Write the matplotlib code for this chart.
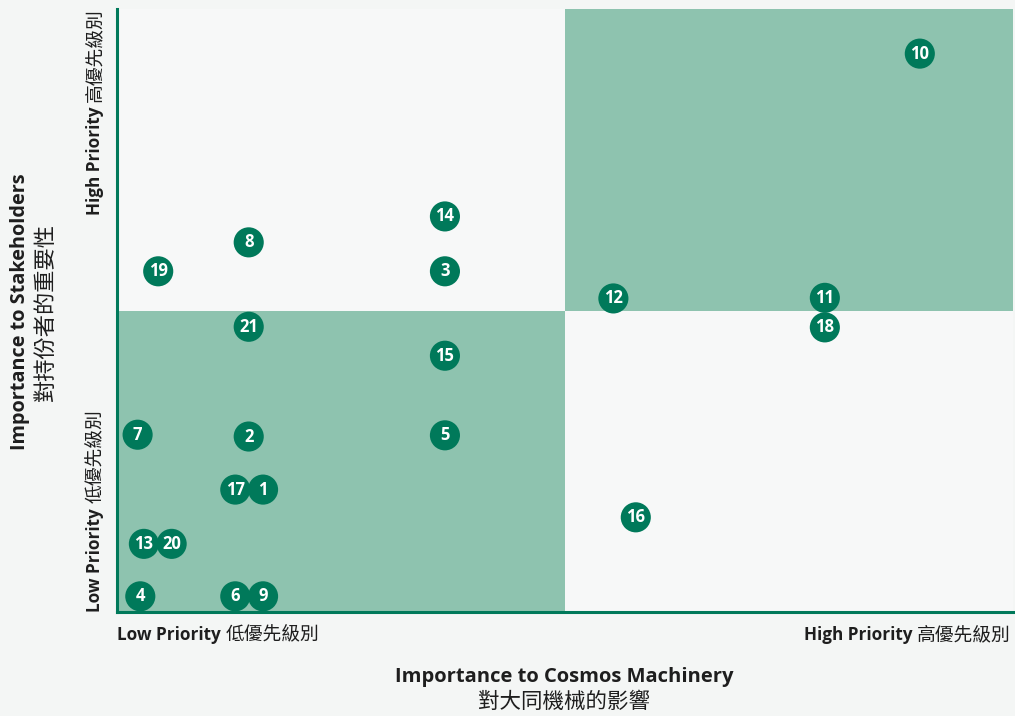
import matplotlib
matplotlib.use("Agg")
import matplotlib.pyplot as plt
from matplotlib.patches import Rectangle

plt.rcParams['font.family'] = ['Open Sans', 'Noto Sans CJK TC', 'DejaVu Sans']

labels = ["10", "14", "8", "19", "3", "12", "11", "18", "21", "15", "7", "2", "5",
          "17", "1", "16", "13", "20", "4", "6", "9"]
x_vals = [8.96, 3.66, 1.47, 0.46, 3.66, 5.54, 7.90, 7.90, 1.47, 3.66, 0.23, 1.47, 3.66,
          1.32, 1.63, 5.79, 0.30, 0.61, 0.26, 1.32, 1.63]
y_vals = [9.26, 6.56, 6.13, 5.65, 5.65, 5.20, 5.21, 4.72, 4.73, 4.25, 2.94, 2.91, 2.93,
          2.03, 2.03, 1.57, 1.13, 1.13, 0.26, 0.26, 0.26]

x_title_en = "Importance to Cosmos Machinery"
x_title_zh = "對大同機械的影響"
y_title_en = "Importance to Stakeholders"
y_title_zh = "對持份者的重要性"
low_en, low_zh = "Low Priority", "低優先級別"
high_en, high_zh = "High Priority", "高優先級別"

GREEN = "#00795a"
QUAD = "#8ec3af"
BG = "#f4f6f5"
TXT = "#1e1e1e"

fig = plt.figure(figsize=(10.15, 7.16), dpi=100, facecolor=BG)
ax = fig.add_axes([117/1015, 1-612/716, 896/1015, 603/716])
ax.set_facecolor("#f7f8f8")
ax.set_xlim(0, 10)
ax.set_ylim(0, 10)

ax.add_patch(Rectangle((0, 0), 5, 5, facecolor=QUAD, edgecolor='none', zorder=0))
ax.add_patch(Rectangle((5, 5), 5, 5, facecolor=QUAD, edgecolor='none', zorder=0))

ax.scatter(x_vals, y_vals, s=470, color=GREEN, edgecolors='none', zorder=3, clip_on=False)
for lab, xv, yv in zip(labels, x_vals, y_vals):
    ax.text(xv, yv, lab, ha='center', va='center', color='white', fontsize=12,
            fontweight='bold', zorder=4, family=['Open Sans'])

for s in ['top', 'right']:
    ax.spines[s].set_visible(False)
for s in ['left', 'bottom']:
    ax.spines[s].set_color(GREEN)
    ax.spines[s].set_linewidth(2.2)
ax.set_xticks([])
ax.set_yticks([])

fig.canvas.draw()
r = fig.canvas.get_renderer()

EN_SIZE = 12.3
ZH_SIZE = 13.5

def pair_h(x0, y0, en, zh, ha='left'):
    t1 = fig.text(x0, y0, en, fontsize=EN_SIZE, fontweight='bold', color=TXT,
                  ha='left', va='center', family=['Open Sans'])
    fig.canvas.draw()
    bb = t1.get_window_extent(r)
    gap = 5
    t2 = fig.text((bb.x1 + gap) / 1015, y0, zh, fontsize=ZH_SIZE, color=TXT,
                  ha='left', va='center', family=['Noto Sans CJK TC'])
    fig.canvas.draw()
    bb2 = t2.get_window_extent(r)
    if ha == 'right':
        total = bb2.x1 - bb.x0
        shift = (x0 * 1015 - total) - bb.x0
        t1.set_x(t1.get_position()[0] + shift / 1015)
        t2.set_x(t2.get_position()[0] + shift / 1015)

def pair_v(x0, y0, en, zh, anchor='bottom'):
    t1 = fig.text(x0, y0, en, fontsize=EN_SIZE, fontweight='bold', color=TXT,
                  ha='center', va='bottom', rotation=90, family=['Open Sans'])
    fig.canvas.draw()
    bb = t1.get_window_extent(r)
    gap = 5
    t2 = fig.text(x0, (bb.y1 + gap) / 716, zh, fontsize=ZH_SIZE, color=TXT,
                  ha='center', va='bottom', rotation=90, family=['Noto Sans CJK TC'])
    fig.canvas.draw()
    bb2 = t2.get_window_extent(r)
    if anchor == 'top':
        total = bb2.y1 - bb.y0
        shift = (y0 * 716 - total) - bb.y0
        t1.set_y(t1.get_position()[1] + shift / 716)
        t2.set_y(t2.get_position()[1] + shift / 716)

pair_h(117/1015, 1-635/716, low_en, low_zh)
pair_h(1011/1015, 1-635/716, high_en, high_zh, ha='right')
pair_v(95/1015, 1-612/716, low_en, low_zh)
pair_v(95/1015, 1-8/716, high_en, high_zh, anchor='top')

fig.text(564/1015, 1-677/716, x_title_en, fontsize=14.5, fontweight='bold', color=TXT,
         ha='center', va='center', family=['Open Sans'])
fig.text(564/1015, 1-702/716, x_title_zh, fontsize=15.5, color=TXT,
         ha='center', va='center', family=['Noto Sans CJK TC'])
fig.text(20/1015, 1-312/716, y_title_en, fontsize=14.3, fontweight='bold', color=TXT,
         ha='center', va='center', rotation=90, family=['Open Sans'])
fig.text(45/1015, 1-312/716, y_title_zh, fontsize=16, color=TXT,
         ha='center', va='center', rotation=90, family=['Noto Sans CJK TC'])

fig.savefig("out.png", dpi=100, facecolor=BG)
